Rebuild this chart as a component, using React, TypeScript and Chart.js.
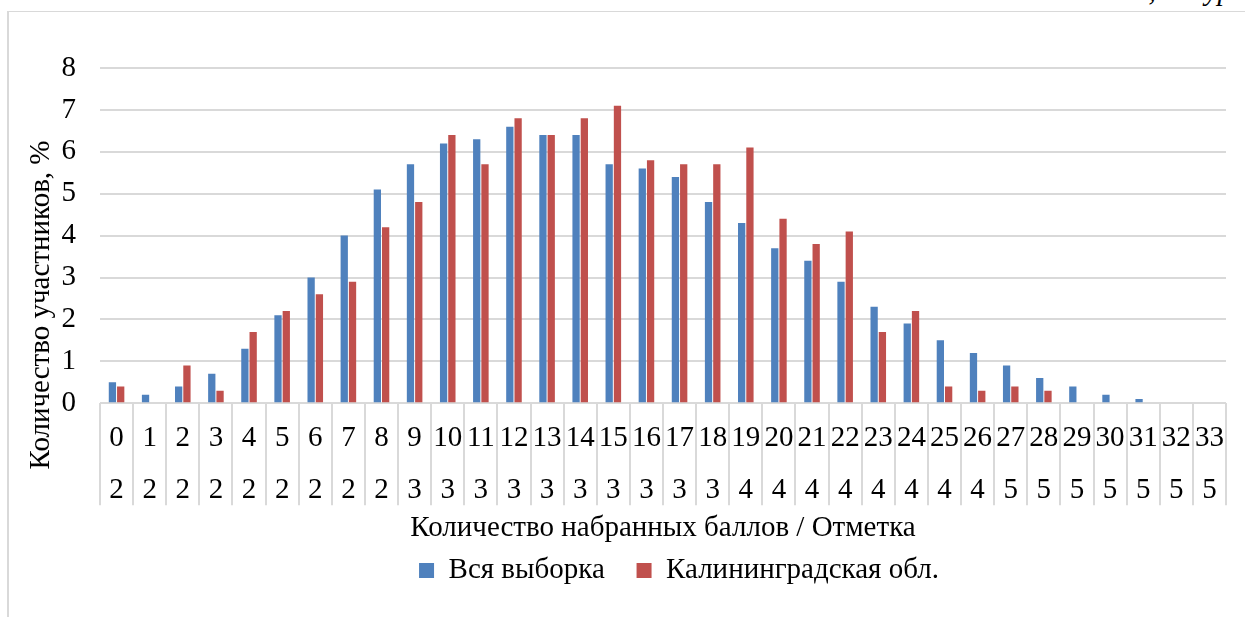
import React, { useEffect, useRef } from "react";
import { Chart, registerables } from "chart.js";

Chart.register(...registerables);

const scores: string[] = [
  "0", "1", "2", "3", "4", "5", "6", "7", "8", "9", "10", "11", "12", "13", "14", "15", "16",
  "17", "18", "19", "20", "21", "22", "23", "24", "25", "26", "27", "28", "29", "30", "31", "32", "33",
];
const grades: string[] = [
  "2", "2", "2", "2", "2", "2", "2", "2", "2", "3", "3", "3", "3", "3", "3", "3", "3",
  "3", "3", "4", "4", "4", "4", "4", "4", "4", "4", "5", "5", "5", "5", "5", "5", "5",
];
const allSample: number[] = [
  0.5, 0.2, 0.4, 0.7, 1.3, 2.1, 3.0, 4.0, 5.1, 5.7, 6.2, 6.3, 6.6, 6.4, 6.4, 5.7, 5.6,
  5.4, 4.8, 4.3, 3.7, 3.4, 2.9, 2.3, 1.9, 1.5, 1.2, 0.9, 0.6, 0.4, 0.2, 0.1, 0, 0,
];
const kaliningrad: number[] = [
  0.4, 0, 0.9, 0.3, 1.7, 2.2, 2.6, 2.9, 4.2, 4.8, 6.4, 5.7, 6.8, 6.4, 6.8, 7.1, 5.8,
  5.7, 5.7, 6.1, 4.4, 3.8, 4.1, 1.7, 2.2, 0.4, 0.3, 0.4, 0.3, 0, 0, 0, 0, 0,
];
const seriesNames: string[] = ["Вся выборка", "Калининградская обл."];
const yTitle = "Количество участников, %";
const xTitle = "Количество набранных баллов / Отметка";

const FONT = "'Liberation Serif', 'Times New Roman', serif";
const FS = 29;

const labelsPlugin = {
  id: "tableLabels",
  afterLayout(chart: any) {
    const lg = chart.legend;
    if (lg) {
      lg.left += 16;
      lg.right += 16;
    }
  },
  afterDraw(chart: any) {
    const { ctx } = chart;
    const xs = chart.scales.x;
    ctx.save();
    ctx.font = `${FS}px ${FONT}`;
    ctx.fillStyle = "#000";
    ctx.textAlign = "center";
    ctx.textBaseline = "middle";
    for (let i = 0; i < scores.length; i++) {
      const x = xs.getPixelForValue(i);
      ctx.fillText(scores[i], x, xs.top + 35);
      ctx.fillText(grades[i], x, xs.top + 87);
    }
    ctx.translate(41, 305);
    ctx.rotate(-Math.PI / 2);
    ctx.fillText(yTitle, 0, 0);
    ctx.restore();
  },
};

export default function App() {
  const ref = useRef<HTMLCanvasElement | null>(null);

  useEffect(() => {
    let chart: any = null;
    let cancelled = false;
    const build = () => {
      if (cancelled || !ref.current) return;
      chart = new Chart(ref.current, {
        type: "bar",
        data: {
          labels: scores,
          datasets: [
            {
              label: seriesNames[0],
              data: allSample,
              backgroundColor: "#4F81BD",
              categoryPercentage: 0.5,
              barPercentage: 0.88,
            },
            {
              label: seriesNames[1],
              data: kaliningrad,
              backgroundColor: "#C0504D",
              categoryPercentage: 0.5,
              barPercentage: 0.88,
            },
          ],
        },
        options: {
          animation: false,
          responsive: true,
          maintainAspectRatio: false,
          layout: { padding: { top: 68, right: 19, bottom: 22, left: 0 } },
          plugins: {
            tooltip: { enabled: false },
            legend: {
              position: "bottom",
              fullSize: false,
              labels: {
                font: { family: FONT, size: FS },
                color: "#000",
                boxWidth: 15,
                boxHeight: 15,
                padding: 10,
                generateLabels(c: any) {
                  const items = Chart.defaults.plugins.legend.labels.generateLabels(c);
                  items.forEach((it: any, i: number) => {
                    it.lineWidth = 0;
                    if (i === 0) it.text = it.text + "\u00A0\u00A0\u00A0";
                  });
                  return items;
                },
              },
            },
          },
          scales: {
            x: {
              grid: {
                offset: true,
                drawOnChartArea: false,
                drawTicks: true,
                tickLength: 102,
                color: "#d9d9d9",
                lineWidth: 2,
              },
              border: { display: false },
              ticks: { display: false },
              title: {
                display: true,
                text: xTitle,
                color: "#000",
                font: { family: FONT, size: FS },
                padding: { top: 6, bottom: 0 },
              },
            },
            y: {
              min: 0,
              max: 8,
              afterFit(scale: any) {
                scale.width = 100;
              },
              ticks: {
                stepSize: 1,
                padding: 24,
                color: "#000",
                font: { family: FONT, size: FS },
              },
              grid: { color: "#d9d9d9", lineWidth: 2, drawTicks: false },
              border: { display: false },
            },
          },
        },
        plugins: [labelsPlugin],
      });
    };
    const fontsApi: any = (document as any).fonts;
    if (fontsApi && fontsApi.load) {
      Promise.all([
        fontsApi.load(`${FS}px 'Liberation Serif'`, "Количество 0123"),
        fontsApi.load(`italic ${FS}px 'Liberation Serif'`, "тур"),
      ])
        .catch(() => null)
        .then(build);
    } else {
      build();
    }
    return () => {
      cancelled = true;
      if (chart) chart.destroy();
    };
  }, []);

  return (
    <div
      style={{
        position: "fixed",
        top: 0,
        left: 0,
        width: 1245,
        height: 617,
        overflow: "hidden",
        background: "#fff",
      }}
    >
      <div
        style={{
          position: "absolute",
          left: 7,
          top: 11,
          width: 1300,
          height: 700,
          borderLeft: "2px solid #d9d9d9",
          borderTop: "1px solid #d9d9d9",
        }}
      />
      <div
        style={{
          position: "absolute",
          right: 13,
          top: -23,
          fontFamily: FONT,
          fontStyle: "italic",
          fontSize: FS,
          lineHeight: "26px",
          whiteSpace: "nowrap",
        }}
      >
        , 1 тур
      </div>
      <div style={{ position: "absolute", left: 0, top: 0, width: 1245, height: 617 }}>
        <canvas ref={ref} />
      </div>
    </div>
  );
}
